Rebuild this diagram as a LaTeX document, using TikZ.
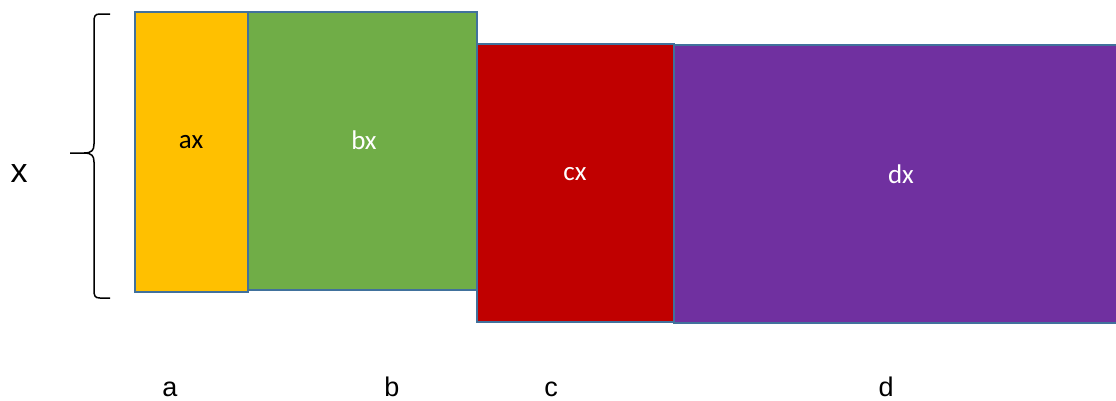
\documentclass[tikz,border=0pt]{standalone}
\usepackage{fontspec}
\setmainfont{Carlito}
\newfontfamily\arialf{Liberation Sans}
\definecolor{edgeblue}{HTML}{41719C}
\definecolor{cyel}{HTML}{FFC000}
\definecolor{cgrn}{HTML}{70AD47}
\definecolor{cred}{HTML}{C00000}
\definecolor{cpur}{HTML}{7030A0}
\begin{document}
\begin{tikzpicture}[x=1pt,y=-1pt,
  blk/.style={draw=edgeblue,line width=2pt},
  blab/.style={font=\fontsize{27}{29}\selectfont},
  axlab/.style={font=\arialf\fontsize{27}{29}\selectfont,anchor=base}]
\useasboundingbox (0,0) rectangle (1116,400);
\fill[white] (0,0) rectangle (1116,400);
\filldraw[blk,fill=cpur] (674,45) rectangle (1122,323);
\filldraw[blk,fill=cred] (477,44) rectangle (674,322);
\filldraw[blk,fill=cgrn] (248,12) rectangle (477,290);
\filldraw[blk,fill=cyel] (135,12) rectangle (248,292);
\node[blab,text=black] (ax) at (191,142) {ax};
\node[blab,text=white] (bx) at (364,140) {bx};
\node[blab,text=white] (cx) at (575,174) {cx};
\node[blab,text=white] (dx) at (901,174) {dx};
\draw[line width=1.5pt] (110,14) -- (100,14) .. controls (95,14) and (94,16) .. (94,22) -- (94,144)
  .. controls (94,150) and (92,153) .. (84,153) -- (70,153);
\draw[line width=1.5pt] (110,298) -- (100,298) .. controls (95,298) and (94,296) .. (94,290) -- (94,162)
  .. controls (94,156) and (92,153) .. (84,153);
\node[font=\arialf\fontsize{34}{36}\selectfont] (X) at (19,174) {x};
\node[axlab] (la) at (170,396) {a};
\node[axlab] (lb) at (392,396) {b};
\node[axlab] (lc) at (551,396) {c};
\node[axlab] (ld) at (886,396) {d};
\end{tikzpicture}
\end{document}
